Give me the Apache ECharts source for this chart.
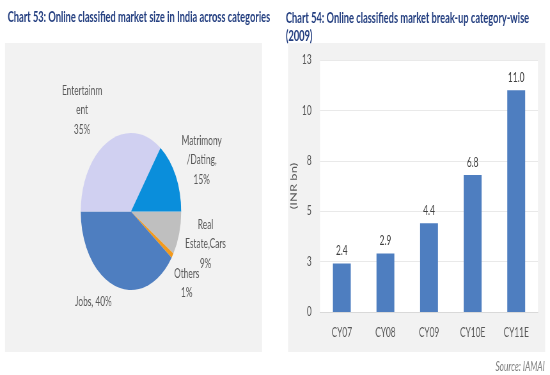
<!DOCTYPE html>
<html>
<head>
<meta charset="utf-8">
<script src="https://cdn.jsdelivr.net/npm/echarts@6/dist/echarts.min.js"></script>
<style>
  html, body { margin: 0; padding: 0; background: #fff; overflow: hidden; }
  /* the source picture is squeezed horizontally, so the chart is drawn wide and squeezed too */
  #chart { width: 860px; height: 375px; transform: scaleX(0.6395); transform-origin: 0 0; }
</style>
</head>
<body>
<div id="chart"></div>
<script>
// pie: share of online classifieds by category (clockwise from 3 o'clock)
var pieNames = ['Real Estate,Cars', 'Others', 'Jobs', 'Entertainment', 'Matrimony/Dating']
var pieLabelNames = ['Real\nEstate,Cars\n', 'Others\n', 'Jobs, ', 'Entertainm\nent\n', 'Matrimony\n/Dating,\n']
var pieValues = [9, 1, 40, 35, 15]
var pieColors = ['#bfbfbf', '#f39a1c', '#4e7ec0', '#d0d0f1', '#0a8edb']

// bars: market size
var barCats = ['CY07', 'CY08', 'CY09', 'CY10E', 'CY11E']
var barValues = [2.4, 2.9, 4.4, 6.8, 11.0]
var yTickLabels = ['0', '3', '5', '8', '10', '13']

var PIE_CX = 204.8
var PIE_CY = 211.5
var PIE_R = 78.5
// label distance / small angle nudge per slice
var labelR = [121, 113, 108, 127, 122]
var labelTurn = [0.7, -5.3, -15, 10, -2]

var total = 0
for (var i = 0; i < pieValues.length; i++) total += pieValues[i]
var midAngles = []
var cum = 0
for (var i = 0; i < pieValues.length; i++) {
  midAngles.push(-(cum + pieValues[i] / 2) / total * 360)
  cum += pieValues[i]
}

var pieData = pieNames.map(function (n, i) {
  return { name: n, value: pieValues[i], itemStyle: { color: pieColors[i] } }
})

var chart = echarts.init(document.getElementById('chart'))
chart.setOption({
  animation: false,
  textStyle: { fontFamily: 'Lato' },
  title: [
    {
      text: 'Chart 53: Online classified market size in India across categories',
      left: 7,
      top: 5,
      textStyle: { fontFamily: 'Lato', fontSize: 14.5, fontWeight: 'bold', color: '#243f80' }
    },
    {
      text: 'Chart 54: Online classifieds market break-up category-wise\n(2009)',
      left: 442,
      top: 5,
      textStyle: { fontFamily: 'Lato', fontSize: 14.5, fontWeight: 'bold', color: '#243f80', lineHeight: 17.5 }
    },
    {
      text: 'Source: IAMAI',
      right: 3,
      top: 355,
      textStyle: { fontFamily: 'Lato', fontSize: 13, fontStyle: 'italic', fontWeight: 'normal', color: '#7f7f7f' }
    }
  ],
  graphic: [
    { type: 'rect', z: -10, shape: { x: 7.8, y: 43, width: 402, height: 309 }, style: { fill: '#f2f2f2' } },
    { type: 'rect', z: -10, shape: { x: 450.4, y: 43, width: 402, height: 309 }, style: { fill: '#f2f2f2' } }
  ],
  grid: {
    left: 500.4,
    right: 18.7,
    top: 60,
    bottom: 63,
    show: true,
    backgroundColor: '#fff',
    borderWidth: 0
  },
  xAxis: {
    type: 'category',
    data: barCats,
    axisTick: { show: false },
    axisLine: { lineStyle: { color: '#d9d9d9' } },
    axisLabel: { color: '#595959', fontSize: 13, margin: 14 }
  },
  yAxis: {
    type: 'value',
    min: 0,
    max: 12.5,
    interval: 2.5,
    name: '(INR bn)',
    nameLocation: 'middle',
    nameGap: 34,
    nameRotate: 90,
    nameTextStyle: { color: '#595959', fontSize: 13 },
    axisLine: { show: false },
    axisTick: { show: false },
    splitLine: { lineStyle: { color: '#e9e9e9' } },
    axisLabel: {
      color: '#595959',
      fontSize: 13,
      margin: 13,
      formatter: function (v) { return yTickLabels[Math.round(v / 2.5)] }
    }
  },
  series: [
    {
      type: 'pie',
      center: [PIE_CX, PIE_CY],
      radius: PIE_R,
      startAngle: 0,
      clockwise: true,
      data: pieData,
      label: {
        position: 'outside',
        color: '#595959',
        fontSize: 13,
        lineHeight: 19.5,
        align: 'center',
        formatter: function (p) { return pieLabelNames[p.dataIndex] + p.value + '%' }
      },
      labelLine: { show: false },
      labelLayout: function (p) {
        var i = p.dataIndex
        var a = (midAngles[i] + labelTurn[i]) * Math.PI / 180
        return {
          x: PIE_CX + labelR[i] * Math.cos(a),
          y: PIE_CY - labelR[i] * Math.sin(a),
          align: 'center',
          verticalAlign: 'middle'
        }
      },
      emphasis: { disabled: true }
    },
    {
      type: 'bar',
      data: barValues,
      barWidth: '41%',
      itemStyle: { color: '#4e7ec0' },
      label: {
        show: true,
        position: 'top',
        distance: 6,
        color: '#404040',
        fontSize: 13,
        formatter: function (p) { return p.value.toFixed(1) }
      }
    }
  ]
})
</script>
</body>
</html>
